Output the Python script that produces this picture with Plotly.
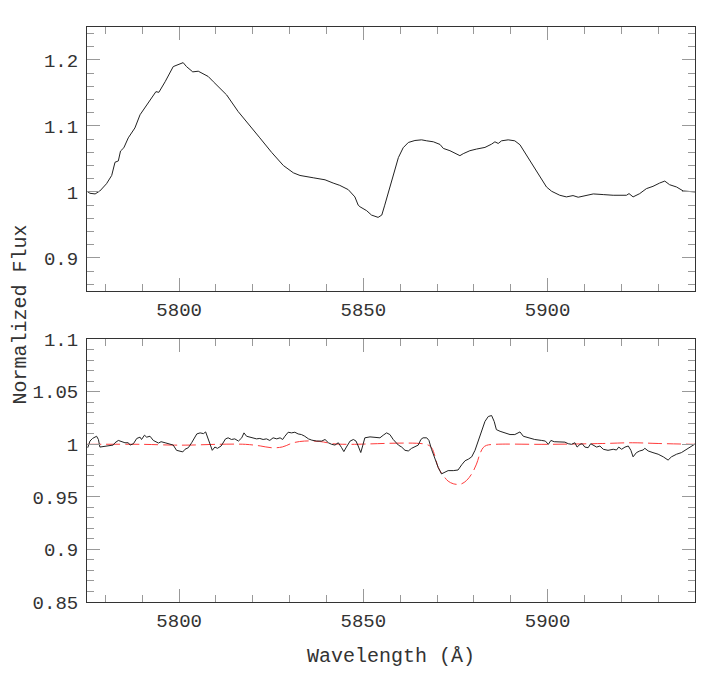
import plotly.graph_objects as go
from plotly.subplots import make_subplots

# top panel: observed spectrum
top_wave = [5775.0, 5775.8, 5777.2, 5778.5, 5780.3, 5781.7, 5782.6, 5783.5, 5784.1, 5785.0,
            5786.2, 5788.0, 5789.4, 5791.2, 5793.0, 5793.7, 5794.5, 5796.2, 5798.4, 5799.3,
            5800.2, 5801.1, 5802.0, 5802.9, 5803.7, 5805.2, 5806.1, 5807.0, 5807.9, 5809.3,
            5811.1, 5812.9, 5816.0, 5818.3, 5821.9, 5825.1, 5828.3, 5831.0, 5832.8, 5836.4,
            5839.6, 5841.8, 5843.6, 5845.9, 5847.7, 5848.6, 5849.1, 5850.9, 5852.2, 5854.0,
            5855.0, 5855.8, 5857.2, 5858.1, 5859.5, 5860.8, 5862.2, 5864.0, 5865.8, 5867.2,
            5869.0, 5870.8, 5871.7, 5873.5, 5875.3, 5876.2, 5877.1, 5878.9, 5880.7, 5883.0,
            5884.8, 5885.7, 5886.6, 5887.5, 5889.3, 5891.1, 5892.5, 5894.3, 5896.1, 5897.9,
            5899.7, 5901.1, 5903.3, 5905.1, 5906.9, 5908.3, 5910.1, 5912.4, 5915.1, 5917.8,
            5921.4, 5922.1, 5923.2, 5925.0, 5926.8, 5928.6, 5930.4, 5931.8, 5933.1, 5935.0,
            5936.8, 5940.0]
top_flux = [1.001, 0.998, 0.997, 1.0015, 1.0125, 1.025, 1.045, 1.047, 1.062, 1.067,
            1.082, 1.097, 1.117, 1.132, 1.145, 1.152, 1.151, 1.167, 1.190, 1.192,
            1.1946, 1.196, 1.19, 1.186, 1.182, 1.183, 1.180, 1.178, 1.175, 1.167,
            1.157, 1.147, 1.122, 1.107, 1.082, 1.06, 1.04, 1.029, 1.025, 1.0215,
            1.0184, 1.0135, 1.010, 1.0035, 0.9925, 0.980, 0.9775, 0.9716, 0.965, 0.9615,
            0.965, 0.980, 1.0075, 1.0275, 1.052, 1.067, 1.075, 1.078, 1.079, 1.0775,
            1.076, 1.072, 1.066, 1.0625, 1.0575, 1.055, 1.058, 1.0625, 1.065, 1.0675,
            1.0725, 1.076, 1.0735, 1.0775, 1.079, 1.0775, 1.0715, 1.055, 1.04, 1.0225,
            1.0075, 1.001, 0.995, 0.9925, 0.9945, 0.992, 0.9945, 0.997, 0.996, 0.995,
            0.995, 0.9975, 0.9925, 0.9975, 1.005, 1.0085, 1.0135, 1.0165, 1.011, 1.0075,
            1.0015, 1.000]

# bottom panel: residual spectrum
res_wave = [5775.2, 5775.8, 5776.5, 5777.2, 5777.6, 5778.1, 5778.5, 5782.1, 5782.6, 5783.5,
            5784.4, 5785.3, 5786.2, 5786.7, 5787.6, 5788.5, 5789.4, 5789.8, 5790.6, 5791.2,
            5792.1, 5793.0, 5794.4, 5795.1, 5796.2, 5797.5, 5798.4, 5799.3, 5800.2, 5801.0,
            5801.6, 5802.5, 5803.4, 5804.3, 5804.8, 5805.7, 5806.6, 5807.2, 5807.9, 5808.6,
            5809.0, 5809.7, 5810.4, 5811.4, 5812.0, 5812.6, 5813.3, 5814.2, 5815.1, 5816.1,
            5817.0, 5817.6, 5818.3, 5819.2, 5820.1, 5821.0, 5821.9, 5822.8, 5823.7, 5824.6,
            5825.5, 5826.5, 5827.4, 5828.1, 5828.7, 5829.6, 5830.5, 5831.4, 5832.3, 5833.2,
            5834.1, 5835.1, 5836.0, 5837.3, 5838.7, 5839.6, 5840.5, 5841.4, 5842.3, 5843.2,
            5844.1, 5844.7, 5845.4, 5846.4, 5847.3, 5848.0, 5848.6, 5849.3, 5849.8, 5850.4,
            5851.8, 5853.1, 5854.5, 5855.4, 5856.3, 5857.2, 5858.1, 5859.5, 5860.4, 5861.3,
            5862.2, 5863.1, 5864.0, 5864.9, 5865.6, 5866.2, 5867.2, 5867.8, 5868.5, 5869.4,
            5870.3, 5871.2, 5872.1, 5873.0, 5874.4, 5875.7, 5876.7, 5877.6, 5878.5, 5879.4,
            5880.3, 5881.2, 5882.1, 5883.0, 5883.9, 5884.8, 5885.5, 5886.1, 5887.1, 5888.4,
            5889.8, 5891.1, 5892.5, 5893.4, 5894.7, 5896.5, 5898.4, 5899.4, 5900.2, 5900.9,
            5901.8, 5903.3, 5904.7, 5905.6, 5906.5, 5907.4, 5908.0, 5908.8, 5909.4, 5910.1,
            5911.0, 5911.7, 5912.4, 5913.3, 5914.2, 5915.1, 5916.4, 5917.8, 5918.7, 5919.3,
            5920.1, 5921.0, 5921.9, 5922.6, 5923.2, 5924.1, 5925.0, 5925.9, 5926.4, 5927.3,
            5928.6, 5930.0, 5931.4, 5932.7, 5933.6, 5935.0, 5936.3, 5937.7, 5938.6, 5939.5,
            5940.0]
res_flux = [0.9968, 1.0031, 1.0056, 1.0068, 1.0077, 1.0046, 0.9974, 0.9993, 1.0015, 1.0037,
            1.0025, 1.0015, 1.0015, 0.9993, 1.0006, 1.0056, 1.0068, 1.0046, 1.0087, 1.0068,
            1.0077, 1.0037, 1.0012, 1.0025, 1.0015, 1.0, 0.9993, 0.9943, 0.9937, 0.9928,
            0.9953, 0.9968, 1.0015, 1.0068, 1.0099, 1.0109, 1.0102, 1.0118, 1.0046, 0.9968,
            0.9943, 0.9974, 0.9962, 0.9984, 1.0015, 1.0052, 1.0062, 1.0046, 1.0052, 1.0031,
            1.0062, 1.0109, 1.0077, 1.0068, 1.0056, 1.0052, 1.0056, 1.0046, 1.0052, 1.0037,
            1.0062, 1.0052, 1.0062, 1.0046, 1.0077, 1.0115, 1.0109, 1.0115, 1.0099, 1.0093,
            1.0077, 1.0052, 1.0040, 1.0031, 1.0031, 1.0046, 1.0015, 1.0, 0.9993, 1.0015,
            0.9968, 0.9931, 0.9974, 1.0031, 1.0046, 1.0031, 0.9984, 0.9922, 0.9984, 1.0062,
            1.0071, 1.0068, 1.0062, 1.0087, 1.0109, 1.0093, 1.0046, 0.9993, 0.9974, 0.9943,
            0.9937, 0.9962, 0.9974, 0.9993, 1.0046, 1.0062, 1.0062, 1.0037, 0.9953, 0.9859,
            0.9781, 0.9719, 0.9734, 0.9750, 0.9750, 0.9756, 0.9806, 0.9844, 0.9859, 0.9881,
            0.9943, 1.0031, 1.0124, 1.0218, 1.0265, 1.0274, 1.0218, 1.0140, 1.0124, 1.0109,
            1.0093, 1.0093, 1.0118, 1.0077, 1.0062, 1.0046, 1.0037, 1.0031, 1.0, 1.0037,
            1.0025, 1.0025, 1.0021, 1.0006, 1.0, 1.0015, 0.9974, 1.0, 1.0006, 0.9974,
            0.9968, 1.0006, 0.9993, 0.9974, 0.9984, 0.9953, 0.9943, 0.9953, 0.9946, 0.9974,
            0.9953, 0.9974, 0.9984, 0.9943, 0.9881, 0.9921, 0.9937, 0.9946, 0.9962, 0.9937,
            0.9921, 0.9906, 0.9881, 0.9850, 0.9881, 0.9906, 0.9921, 0.9953, 0.9974, 0.9993,
            1.0003]

# bottom panel: model profile (red dashed)
model_wave = [5775, 5790, 5798, 5803, 5810, 5818, 5822, 5825, 5828, 5831, 5834, 5838, 5842,
              5846, 5867, 5868.5, 5869.4, 5870.3, 5871.7, 5873.0, 5874.4, 5875.7, 5876.7,
              5878.0, 5879.4, 5880.7, 5881.6, 5882.5, 5883.4, 5885.7, 5900, 5915, 5923,
              5930, 5940]
model_flux = [1.0, 1.0, 0.9993, 0.9993, 1.0, 1.0, 0.9985, 0.9968, 0.9975, 1.0015, 1.0031,
              1.0028, 1.0005, 1.0, 1.0, 0.9968, 0.989, 0.978, 0.9703, 0.965, 0.9625, 0.9619,
              0.9625, 0.9656, 0.9719, 0.9812, 0.9906, 0.9968, 0.999, 1.0, 1.0, 1.0008, 1.0015,
              1.0008, 1.0]

top_yticks = [0.9, 1.0, 1.1, 1.2]
top_ylabels = ["0.9", "1", "1.1", "1.2"]
bot_yticks = [0.85, 0.9, 0.95, 1.0, 1.05, 1.1]
bot_ylabels = ["0.85", "0.9", "0.95", "1", "1.05", "1.1"]

FONT = "Liberation Mono"
TXT = "#333333"

fig = make_subplots(rows=2, cols=1)

fig.add_trace(go.Scatter(x=top_wave, y=top_flux, mode="lines",
                         line=dict(color="#222222", width=1)), row=1, col=1)
fig.add_trace(go.Scatter(x=model_wave, y=model_flux, mode="lines",
                         line=dict(color="#ff3b3b", width=1, dash="14px,5px", shape="spline")),
              row=2, col=1)
fig.add_trace(go.Scatter(x=res_wave, y=res_flux, mode="lines",
                         line=dict(color="#222222", width=1)), row=2, col=1)

axis_common = dict(
    showline=True, linecolor="#333333", linewidth=1, mirror="allticks",
    ticks="inside", ticklen=13, tickcolor="#999999", tickwidth=1,
    showgrid=False, zeroline=False,
    tickfont=dict(family=FONT, size=19, color=TXT),
)

for r in (1, 2):
    fig.update_xaxes(axis_common, row=r, col=1, range=[5775, 5940],
                     tickmode="linear", tick0=5800, dtick=50, ticklabelstandoff=1,
                     minor=dict(ticks="inside", ticklen=7, tickcolor="#999999",
                                tick0=5770, dtick=10, showgrid=False))

fig.update_yaxes(axis_common, row=1, col=1, range=[0.85, 1.25],
                 tickvals=top_yticks, ticktext=top_ylabels, ticklabelstandoff=4,
                 minor=dict(ticks="inside", ticklen=7, tickcolor="#999999",
                            tick0=0.86, dtick=0.02, showgrid=False))
fig.update_yaxes(axis_common, row=2, col=1, range=[0.85, 1.1],
                 tickvals=bot_yticks, ticktext=bot_ylabels, ticklabelstandoff=4,
                 minor=dict(ticks="inside", ticklen=7, tickcolor="#999999",
                            tick0=0.85, dtick=0.01, showgrid=False))

# the page body adds an 8 px offset, so the figure is 8 px smaller than the window
fig.update_layout(
    width=716, height=666,
    margin=dict(l=79, r=29, t=10, b=72),
    paper_bgcolor="white", plot_bgcolor="white",
    showlegend=False,
    yaxis=dict(domain=[0.541, 1.0]),
    yaxis2=dict(domain=[0.0, 0.457]),
    annotations=[
        dict(text="Wavelength (Å)", xref="paper", yref="paper", x=0.5, y=0,
             xanchor="center", yanchor="middle", yshift=-54, showarrow=False,
             font=dict(family=FONT, size=20, color=TXT)),
        dict(text="Normalized Flux", xref="paper", yref="paper", x=0, y=0.5,
             xanchor="center", yanchor="middle", xshift=-67, textangle=-90,
             showarrow=False, font=dict(family=FONT, size=20, color=TXT)),
    ],
)

fig.write_html("out.html")
